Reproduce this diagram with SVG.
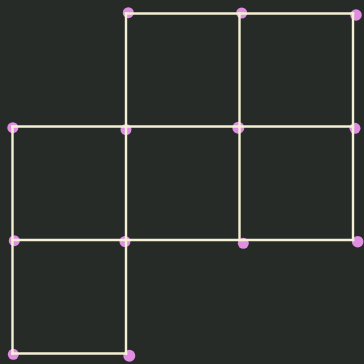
<svg xmlns="http://www.w3.org/2000/svg" width="364" height="364" viewBox="0 0 364 364">
<style>
.n{fill:#e08de2}
.e{stroke:#f4f0d6;stroke-width:2.4;fill:none;stroke-linecap:square}
</style>
<rect width="364" height="364" fill="#262b27"/>
<g id="n1"><circle class="n" cx="128.3" cy="12.7" r="5.5"/></g>
<g id="n2"><circle class="n" cx="241.7" cy="13" r="5.5"/></g>
<g id="n3"><circle class="n" cx="356" cy="15" r="5.8"/></g>
<g id="n4"><circle class="n" cx="12.8" cy="127.7" r="5.5"/></g>
<g id="n5"><circle class="n" cx="126" cy="129.5" r="5.5"/></g>
<g id="n6"><circle class="n" cx="238.3" cy="127.7" r="6"/></g>
<g id="n7"><circle class="n" cx="355" cy="128.3" r="5.5"/></g>
<g id="n8"><circle class="n" cx="14.3" cy="240.7" r="5.5"/></g>
<g id="n9"><circle class="n" cx="125" cy="241.5" r="5.5"/></g>
<g id="n10"><circle class="n" cx="243.3" cy="243.3" r="5.5"/></g>
<g id="n11"><circle class="n" cx="357.7" cy="241.7" r="5.8"/></g>
<g id="n12"><circle class="n" cx="13.3" cy="354.3" r="5.5"/></g>
<g id="n13"><circle class="n" cx="129.3" cy="355.7" r="6"/></g>
<g id="edges" class="e">
<line x1="126" y1="13.5" x2="353" y2="13.5"/>
<line x1="12.5" y1="126.5" x2="353" y2="126.5"/>
<line x1="12.5" y1="240" x2="353" y2="240"/>
<line x1="12.5" y1="353.5" x2="126" y2="353.5"/>
<line x1="12.5" y1="126.5" x2="12.5" y2="353.5"/>
<line x1="126" y1="13.5" x2="126" y2="353.5"/>
<line x1="239.5" y1="13.5" x2="239.5" y2="240"/>
<line x1="353" y1="13.5" x2="353" y2="240"/>
</g>
</svg>
